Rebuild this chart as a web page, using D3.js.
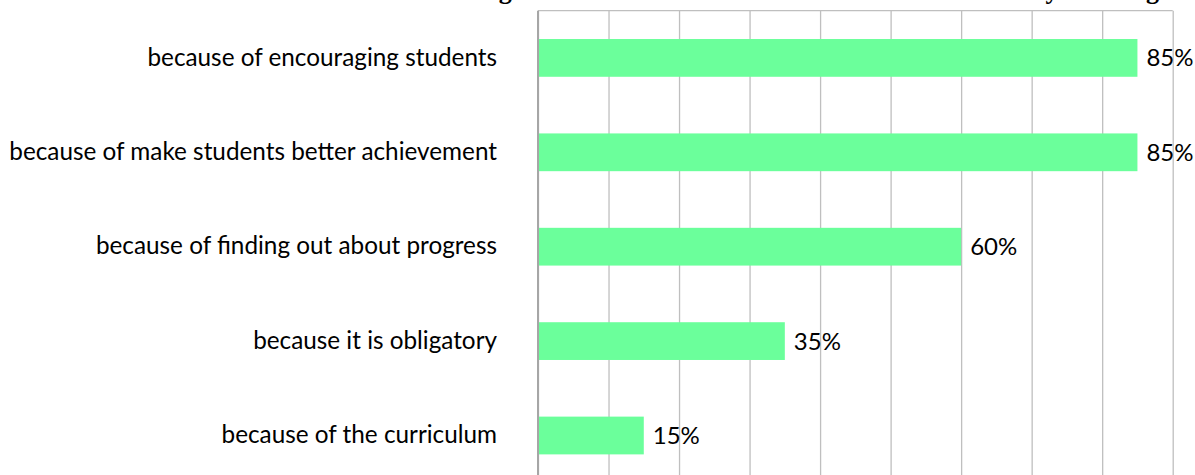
<!DOCTYPE html>
<html>
<head>
<meta charset="utf-8">
<script src="https://cdn.jsdelivr.net/npm/d3@7"></script>
<style>
  html, body { margin: 0; padding: 0; background: #fff; }
  svg { display: block; }
</style>
</head>
<body>
<svg id="chart" width="1195" height="475"></svg>
<script>
const categories = [
  "because of encouraging students",
  "because of make students better achievement",
  "because of finding out about progress",
  "because it is obligatory",
  "because of the curriculum"
];
const values = [0.85, 0.85, 0.60, 0.35, 0.15];
const valueLabels = ["85%", "85%", "60%", "35%", "15%"];
const gridTicks = [0, 0.1, 0.2, 0.3, 0.4, 0.5, 0.6, 0.7, 0.8, 0.9];
const titleText = "Teachers' reasons for assessing students' achievement and motivation in class by teaching";

const svg = d3.select("#chart");
const W = 1195, H = 475;
const plot = { left: 538, right: 1172.7, top: 10.7, bottom: 482.7 };

const x = d3.scaleLinear().domain([0, 0.9]).range([plot.left, plot.right]);
const y = d3.scaleBand().domain(categories).range([plot.top, plot.bottom])
  .paddingInner(0.6).paddingOuter(0.3);

// clipped title (only descenders visible at top, as in the reference)
svg.append("text")
  .attr("x", 1159).attr("y", -1)
  .attr("text-anchor", "end")
  .attr("font-family", "Liberation Serif, Times New Roman, serif")
  .attr("font-weight", "bold")
  .attr("font-size", 26)
  .attr("fill", "#000")
  .text(titleText);

// gridlines
const grid = svg.append("g")
  .attr("transform", `translate(0,${plot.top})`)
  .call(d3.axisTop(x).tickValues(gridTicks).tickSize(-(H - plot.top + 20)).tickFormat(""));
grid.select(".domain").remove();
grid.selectAll(".tick line").attr("stroke", "#bfbfbf").attr("stroke-width", 1.3);

// top border
svg.append("line")
  .attr("x1", plot.left).attr("x2", plot.right)
  .attr("y1", plot.top).attr("y2", plot.top)
  .attr("stroke", "#bfbfbf").attr("stroke-width", 1.3);

// bars
svg.append("g").selectAll("rect").data(categories).join("rect")
  .attr("x", x(0))
  .attr("y", d => y(d))
  .attr("width", (d, i) => x(values[i]) - x(0))
  .attr("height", y.bandwidth())
  .attr("fill", "#6bff9b");

// category axis
const yAxis = svg.append("g")
  .attr("transform", `translate(${plot.left},0)`)
  .call(d3.axisLeft(y).tickSize(0).tickPadding(41));
yAxis.select(".domain").remove();
yAxis.selectAll("text")
  .attr("font-family", "Lato, Carlito, Calibri, sans-serif")
  .attr("font-size", 24.3)
  .attr("fill", "#000");

svg.append("line")
  .attr("x1", plot.left).attr("x2", plot.left)
  .attr("y1", plot.top).attr("y2", H + 10)
  .attr("stroke", "#a6a6a6").attr("stroke-width", 2);

// value labels
svg.append("g").selectAll("text").data(categories).join("text")
  .attr("x", (d, i) => x(values[i]) + 9)
  .attr("y", d => y(d) + y.bandwidth() / 2)
  .attr("dy", "0.35em")
  .attr("font-family", "Lato, Carlito, Calibri, sans-serif")
  .attr("font-size", 24)
  .attr("fill", "#000")
  .text((d, i) => valueLabels[i]);
</script>
</body>
</html>
